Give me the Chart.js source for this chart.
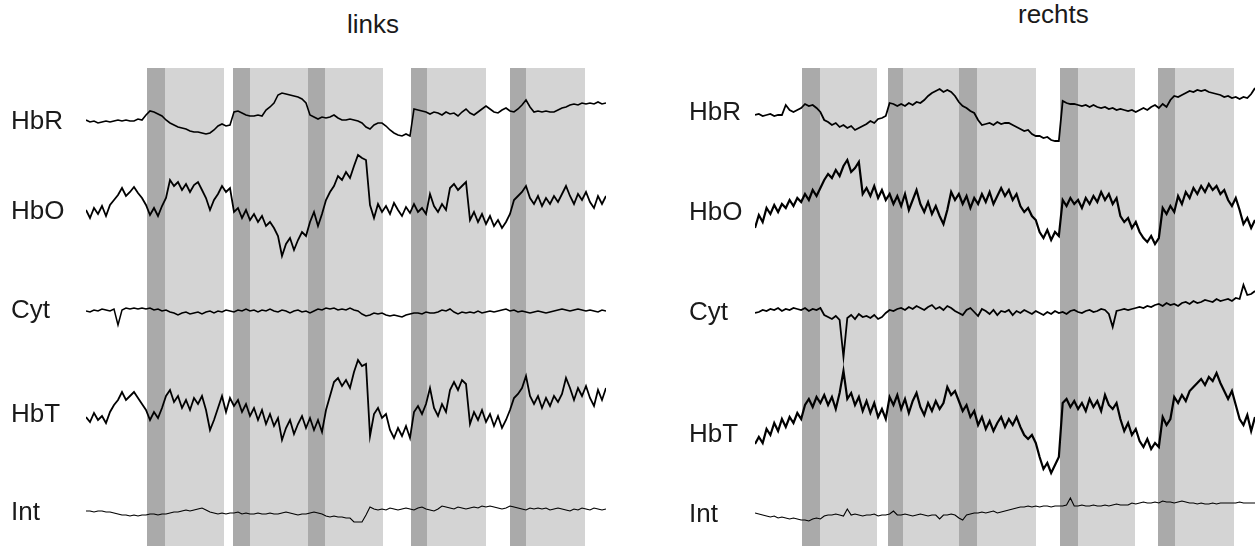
<!DOCTYPE html>
<html>
<head>
<meta charset="utf-8">
<script src="https://cdn.jsdelivr.net/npm/chart.js@4.4.1/dist/chart.umd.min.js"></script>
<style>
  body { margin: 0; width: 1258px; height: 546px; background: #fff; position: relative; overflow: hidden; }
  .panel { position: absolute; top: 0; width: 629px; height: 546px; }
  .title { position: absolute; font: 26px/26px "Liberation Sans", Arial, sans-serif; color: #1a1a1a; white-space: nowrap; }
</style>
</head>
<body>
<div class="title" style="left:347px; top:11px">links</div>
<div class="title" style="left:1018px; top:1px">rechts</div>
<div class="panel" style="left:0"><canvas id="links" width="629" height="546"></canvas></div>
<div class="panel" style="left:629px"><canvas id="rechts" width="629" height="546"></canvas></div>
<script>
// channel names, top to bottom
const channels = ['HbR', 'HbO', 'Cyt', 'HbT', 'Int'];

// vertical level of each channel (a.u., trace deviations are added to it)
const levelsLinks = [424, 334, 235, 131, 33];
const levelsRechts = [433, 333, 233, 111, 31];

// stimulation blocks in samples: [cue start, block start, block end]
const blocksLinks = [[15.25, 19.75, 34.5], [36.75, 41, 55.5], [55.5, 59.75, 74.25], [81.25, 85.25, 100], [106, 110, 124.75]];
const blocksRechts = [[12.2, 16.9, 31.7], [34.6, 38.5, 53], [53, 57.7, 73.1], [79.3, 84, 98.8], [104.8, 109.2, 124.5]];

// ---- left hemisphere, 131 samples each ----
const linksHbR = [
  2, 0, 1, -1, 0, 1, 0, 1, 2, 1,
  2, 1, 1, 3, 2, 7, 11, 10, 8, 6,
  2, -1, -3, -5, -6, -7, -9, -10, -10, -11,
  -12, -11, -8, -4, -2, -4, -3, 10, 11, 9,
  7, 6, 6, 7, 6, 12, 15, 19, 27, 29,
  28, 27, 26, 25, 23, 19, 7, 5, 3, 5,
  4, 5, 7, 4, 2, 2, 3, 2, 1, -1,
  -5, -7, -3, -1, -1, -4, -8, -11, -13, -14,
  -12, -14, 13, 12, 11, 10, 8, 10, 9, 7,
  10, 8, 9, 6, 10, 13, 9, 7, 10, 13,
  16, 13, 10, 9, 12, 14, 11, 10, 13, 17,
  22, 15, 10, 11, 10, 11, 10, 10, 12, 14,
  15, 17, 18, 17, 19, 18, 19, 18, 20, 18,
  19
];
const linksHbO = [
  2, -6, 4, -2, 6, -4, 7, 12, 17, 24,
  16, 20, 25, 19, 14, 7, -3, 4, -4, 6,
  14, 32, 26, 30, 22, 28, 20, 27, 30, 22,
  14, 2, 12, 18, 26, 20, 24, 0, 4, -6,
  2, -8, -2, -10, -4, -14, -10, -16, -24, -44,
  -32, -26, -38, -28, -20, -24, -10, 0, -14, -2,
  12, 20, 26, 36, 32, 40, 34, 46, 57, 54,
  52, 7, -6, 8, 0, 6, -2, 9, 2, -4,
  5, -1, 8, 0, 4, -2, 18, 6, 0, 8,
  2, 24, 28, 22, 26, 30, -8, 0, -10, -2,
  -12, -4, -14, -8, -16, -10, -2, 12, 16, 20,
  26, 14, 8, 16, 6, 14, 8, 16, 10, 18,
  26, 16, 8, 18, 12, 20, 10, 4, 16, 8,
  16
];
const linksCyt = [
  0, -1, 1, 0, 2, 1, 0, 2, -14, 1,
  3, 2, 3, 2, 3, 2, 3, 1, 2, 0,
  1, -1, -2, -4, -2, -1, -3, -2, -1, -3,
  -1, 0, -2, 0, -1, 1, 0, -1, 1, 0,
  2, 0, 1, -1, 1, 0, 2, 0, -1, 1,
  0, -2, 0, 1, -1, 0, -2, 0, 2, 1,
  3, 2, 3, 1, 2, 1, 3, 1, 0, -3,
  -5, -4, -2, -3, -2, -4, -5, -4, -5, -6,
  -4, -3, -2, -2, -3, -1, -2, -2, -1, 1,
  0, 2, -1, -3, -1, -2, -1, -2, 0, -2,
  -1, 0, -1, 0, 1, 2, 0, 1, -1, 0,
  -1, -2, -1, 0, -1, -2, -1, 0, 1, 2,
  1, 0, 1, 2, 1, 0, 1, 0, -1, 1,
  0
];
const linksHbT = [
  -2, -7, 2, -5, -1, -8, 3, 10, 15, 23,
  15, 19, 23, 17, 11, 5, -5, 3, -3, 7,
  19, 25, 13, 19, 7, 15, 5, 17, 11, 19,
  5, -15, -5, 7, 19, 3, 17, 9, 15, 3,
  11, -1, 7, -5, 5, -9, 1, -11, -3, -25,
  -13, -5, -19, -9, -1, -13, -3, -15, -5, -17,
  5, 19, 33, 37, 29, 35, 27, 43, 55, 49,
  51, -21, 1, 7, -3, 1, -15, -23, -13, -21,
  -11, -23, 3, 9, 1, 11, 27, 7, -1, 11,
  3, 25, 33, 25, 35, 31, -9, 3, -5, 5,
  -7, 1, -11, -1, -13, -5, 5, 17, 21, 27,
  39, 19, 11, 19, 7, 17, 9, 19, 13, 21,
  37, 27, 15, 27, 19, 29, 17, 9, 25, 15,
  27
];
const linksInt = [
  2, 2, 1, 2, 2, 1, 1, 0, -1, -2,
  -2, -3, -2, -3, -2, -2, -1, -1, -2, -1,
  -1, 0, 1, 1, 2, 3, 2, 3, 4, 5,
  3, 1, 0, -1, 0, -1, 0, 0, 1, -1,
  0, -1, -1, 0, -1, -1, 0, -1, -1, 0,
  1, 0, -1, -2, -1, -1, 0, 1, 0, -1,
  -3, -4, -3, -4, -4, -5, -5, -9, -9, -9,
  -2, 6, 4, 3, 4, 3, 5, 4, 3, 4,
  5, 4, 3, 5, 6, 4, 3, 2, 4, 7,
  6, 5, 4, 6, 5, 4, 5, 6, 5, 7,
  6, 7, 6, 5, 4, 5, 7, 6, 5, 4,
  3, 5, 4, 5, 4, 5, 3, 4, 5, 4,
  3, 2, 4, 3, 5, 4, 3, 5, 4, 3,
  4
];

// ---- right hemisphere, 131 samples each ----
const rechtsHbR = [
  -2, -1, -3, -2, -1, -3, -2, -2, 8, 3,
  1, 3, 5, 9, 7, 8, 5, 1, -7, -9,
  -12, -10, -14, -12, -15, -13, -17, -15, -13, -11,
  -8, -10, -6, -5, -3, 10, 9, 7, 9, 7,
  10, 8, 11, 10, 13, 17, 20, 22, 24, 21,
  23, 21, 17, 11, 7, 5, 2, 0, -7, -12,
  -11, -10, -12, -9, -11, -10, -10, -12, -14, -16,
  -18, -17, -21, -23, -23, -25, -24, -27, -28, -28,
  12, 10, 9, 9, 8, 7, 8, 6, 8, 6,
  5, 6, 4, 5, 3, 4, 3, 2, 3, 1,
  3, 5, 3, 6, 8, 5, 9, 6, 13, 17,
  16, 18, 20, 22, 21, 23, 22, 23, 21, 20,
  19, 18, 16, 17, 15, 16, 14, 16, 15, 19,
  25
];
const rechtsHbO = [
  -15, -2, -9, 5, -1, 8, 1, 9, 5, 13,
  7, 15, 11, 19, 13, 23, 17, 25, 33, 39,
  35, 43, 37, 47, 53, 41, 45, 51, 19, 25,
  17, 27, 15, 23, 13, 19, 9, 17, 7, 19,
  3, 13, 23, 9, 1, 11, -1, 7, -3, -11,
  3, 21, 13, 19, 9, 17, 5, 15, 9, 19,
  11, 21, 9, 17, 25, 17, 23, 13, 19, 7,
  1, 5, -3, -7, -19, -25, -17, -27, -19, -23,
  13, 7, 15, 9, 13, 5, 15, 9, 17, 11,
  21, 13, 19, 9, 15, -3, -9, -5, -15, -9,
  -19, -25, -29, -23, -31, -25, 5, -1, 7, 1,
  17, 9, 21, 15, 25, 19, 27, 21, 29, 23,
  27, 19, 23, 13, 7, 15, 3, -11, -5, -15,
  -7
];
const rechtsCyt = [
  0, 1, 3, 2, 4, 3, 5, 2, 4, 3,
  5, 4, 3, 5, 2, 4, 3, 5, -2, -4,
  -6, -3, -7, -44, -5, -2, -6, -1, -4, -3,
  -5, -2, -6, -4, 0, 3, 2, 4, 5, 3,
  6, 4, 7, 5, 3, 6, 8, 4, 6, 3,
  7, 5, 2, 0, -2, 3, 5, 1, -3, 4,
  2, -1, 3, -2, 2, 1, 3, -2, 2, 0,
  3, 1, -1, 2, 0, -2, 1, -1, 2, 0,
  1, -1, 2, 3, 1, 0, 2, 3, 1, 2,
  4, 3, -1, -14, 2, 3, 4, 3, 4, 5,
  6, 5, 7, 6, 8, 9, 7, 10, 8, 9,
  7, 10, 11, 9, 12, 10, 11, 13, 12, 11,
  14, 12, 13, 14, 12, 15, 14, 28, 18, 19,
  22
];
const rechtsHbT = [
  -9, -2, -8, 6, 0, 12, 4, 16, 8, 18,
  12, 22, 16, 30, 36, 28, 38, 32, 40, 30,
  38, 26, 42, 64, 36, 42, 30, 38, 24, 34,
  22, 32, 18, 26, 16, 38, 30, 40, 26, 36,
  22, 34, 42, 28, 20, 32, 24, 34, 26, 32,
  48, 40, 44, 34, 24, 30, 18, 24, 10, 18,
  6, 14, 4, 12, 18, 8, 16, 10, 18, 8,
  0, -4, 0, -8, -22, -34, -28, -38, -30, -22,
  32, 36, 28, 34, 26, 32, 24, 36, 28, 34,
  24, 40, 30, 26, 32, 16, 4, 12, 0, 6,
  -6, -12, -4, -14, -8, -12, 18, 10, 16, 38,
  32, 40, 34, 44, 48, 52, 56, 50, 58, 54,
  62, 52, 44, 36, 44, 30, 16, 10, 20, 4,
  18
];
const rechtsInt = [
  2, 1, 0, -1, -2, -1, -3, -2, -3, -4,
  -3, -4, -5, -5, -6, -4, -3, -4, -1, 0,
  0, 1, 0, -1, 6, 0, 1, 0, -1, 0,
  0, 1, -1, 0, 0, 1, 4, 0, 0, 1,
  0, -1, 0, 1, 0, -1, 0, 0, -4, 0,
  0, 1, 0, -3, -5, 0, 1, 2, 2, 3,
  2, 3, 4, 2, 3, 4, 5, 6, 7, 8,
  8, 9, 8, 9, 8, 9, 9, 8, 9, 9,
  9, 10, 17, 9, 9, 10, 9, 9, 10, 9,
  9, 10, 9, 10, 11, 10, 10, 10, 12, 11,
  12, 13, 12, 12, 13, 12, 14, 13, 13, 12,
  13, 14, 13, 12, 12, 11, 12, 11, 11, 12,
  11, 12, 12, 12, 12, 12, 13, 12, 12, 12,
  12
];

// grey shading: short cue phase (dark) followed by the stimulation block (light)
const blockShading = {
  id: 'blockShading',
  beforeDatasetsDraw(chart, args, opts) {
    const { ctx, chartArea: { top, bottom }, scales: { x } } = chart;
    ctx.save();
    opts.blocks.forEach(([cue, start, end]) => {
      const a = Math.round(x.getPixelForValue(cue));
      const b = Math.round(x.getPixelForValue(start));
      const c = Math.round(x.getPixelForValue(end));
      ctx.fillStyle = opts.cueColor;
      ctx.fillRect(a, top, b - a, bottom - top);
      ctx.fillStyle = opts.blockColor;
      ctx.fillRect(b, top, c - b, bottom - top);
    });
    ctx.restore();
  }
};

// labelLeft: where the channel names start, axisWidth: room between them and the traces
function makePanel(id, series, levels, blocks, widths, labelLeft, axisWidth, rightPad) {
  const datasets = series.map((vals, k) => ({
    label: channels[k],
    data: vals.map((v, i) => ({ x: i, y: levels[k] + v })),
    borderColor: '#000',
    borderWidth: widths[k],
    tension: 0,
    pointRadius: 0,
    fill: false
  }));

  return new Chart(document.getElementById(id), {
    type: 'line',
    data: { datasets },
    options: {
      responsive: false,
      animation: false,
      devicePixelRatio: 1,
      events: [],
      layout: { padding: { top: 68, right: rightPad, bottom: 0, left: labelLeft } },
      scales: {
        x: { type: 'linear', min: 0, max: 130, display: false },
        y: {
          type: 'linear',
          min: 0,
          max: 478,
          grid: { display: false, drawTicks: false },
          border: { display: false },
          afterFit(scale) {
            scale.width = axisWidth;
            scale.paddingTop = 0;
            scale.paddingBottom = 0;
          },
          afterBuildTicks(scale) { scale.ticks = levels.map(v => ({ value: v })); },
          ticks: {
            autoSkip: false,
            crossAlign: 'far',
            padding: 0,
            color: '#1a1a1a',
            font: { family: '"Liberation Sans", Arial, sans-serif', size: 26 },
            callback: (v) => channels[levels.indexOf(v)]
          }
        }
      },
      plugins: {
        legend: { display: false },
        tooltip: { enabled: false },
        blockShading: { blocks, cueColor: '#aaaaaa', blockColor: '#d4d4d4' }
      }
    },
    plugins: [blockShading]
  });
}

makePanel('links', [linksHbR, linksHbO, linksCyt, linksHbT, linksInt], levelsLinks, blocksLinks,
  [1.6, 1.8, 1.5, 1.8, 1.1], 11, 75, 23);
makePanel('rechts', [rechtsHbR, rechtsHbO, rechtsCyt, rechtsHbT, rechtsInt], levelsRechts, blocksRechts,
  [1.8, 2.2, 1.8, 2.2, 1.1], 60, 66, 3);
</script>
</body>
</html>
